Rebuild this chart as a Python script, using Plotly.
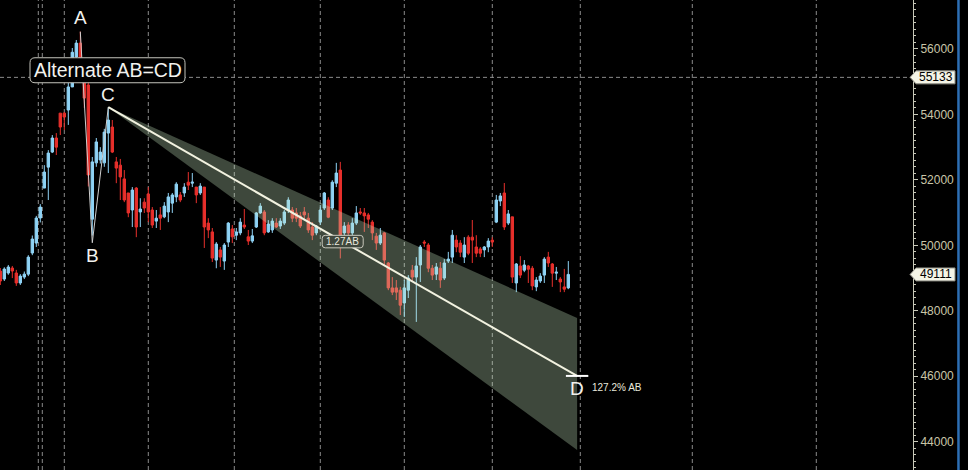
import plotly.graph_objects as go

# ---- candle data (index = bar number) ----
opens = [49215, 48970, 49154, 49307, 49154, 48850, 49030, 49120, 49765, 50070,
         50835, 51750, 52390, 52850, 53280, 54040, 54040, 54135, 54840, 55755,
         56180, 55300, 54900, 50800, 52520, 52610, 52520, 53430, 53615, 52550,
         52450, 52030, 51600, 51080, 51750, 51020, 51320, 51570, 51080, 50740,
         50930, 50870, 51020, 51290, 51480, 51540, 51600, 51930, 51900, 51780,
         51600, 51780, 50680, 50410, 49550, 49860, 49520, 50100, 50500, 50310,
         50380, 50620, 50260, 50130, 50560, 50990, 51020, 50410, 50470, 50680,
         50590, 50680, 51080, 51080, 50990, 50900, 51020, 50830, 50560, 50380,
         50710, 51140, 51385, 51140, 51900, 52300, 50380, 50620, 50380, 50680,
         51020, 50990, 50930, 50710, 50280, 50070, 50380, 49460, 48700, 48700,
         48630, 48240, 48630, 49240, 49030, 49400, 50100, 50010, 49300, 49120,
         49300, 49000, 49520, 49640, 50160, 50070, 49640, 50250, 50250, 49950,
         49890, 49860, 49950, 50160, 50710, 51355, 51600, 50680, 50870, 48850,
         49370, 49240, 49370, 49300, 48730, 48910, 49090, 49640, 49430, 49150,
         48970, 48730, 48700]
highs = [49307, 49330, 49400, 49370, 49250, 49120, 49200, 49700, 50300, 50900,
         51260, 52450, 52910, 53370, 53430, 54040, 54070, 54960, 56030, 56275,
         56530, 55500, 55000, 52700, 53280, 53000, 53560, 54220, 53830, 52700,
         52640, 52300, 51600, 51780, 51780, 51440, 51440, 51780, 51170, 51080,
         51170, 51320, 51600, 51600, 51930, 51630, 51900, 52240, 52210, 51780,
         51900, 51780, 50830, 50530, 50100, 49950, 50070, 50710, 50620, 50530,
         50830, 51110, 50470, 50500, 51020, 51290, 51080, 50770, 50830, 50830,
         50830, 51080, 51470, 51170, 51140, 51020, 51170, 50990, 50710, 50620,
         51230, 51630, 51470, 51990, 52520, 52550, 50710, 50710, 50830, 51200,
         51140, 51140, 50990, 50770, 50380, 50530, 50410, 49490, 49030, 48940,
         48730, 48940, 49090, 49400, 49640, 50010, 50160, 50070, 49400, 49460,
         49490, 49580, 49800, 50470, 50310, 50160, 50250, 50310, 50774, 50310,
         49950, 49980, 50220, 50250, 51540, 51600, 51905, 51080, 50870, 49460,
         49670, 49550, 49400, 49370, 49030, 49150, 49640, 49800, 49460, 49340,
         49030, 49280, 49520]
lows = [48788, 48910, 49100, 49000, 48760, 48790, 48970, 49060, 49700, 49950,
        50700, 51750, 51385, 52820, 52760, 53370, 53520, 53680, 54840, 55720,
        55000, 54200, 51800, 50300, 52400, 52500, 52400, 52210, 52820, 51900,
        51385, 51320, 50860, 50560, 50250, 50560, 50990, 50710, 50530, 50530,
        50470, 50830, 50710, 50990, 51320, 51320, 51480, 51690, 51780, 51290,
        51540, 49920, 50220, 49490, 49300, 49340, 49250, 49950, 50070, 50160,
        50310, 50500, 50010, 50070, 50530, 50960, 50310, 50380, 50380, 50530,
        50500, 50620, 50990, 50710, 50710, 50530, 50770, 50380, 50160, 50310,
        50620, 51080, 50830, 51080, 51780, 49600, 50310, 50250, 50310, 50620,
        50930, 50410, 50530, 50160, 49860, 50010, 49400, 48630, 48480, 48330,
        47870, 47810, 48390, 48880, 47660, 48880, 49950, 49180, 48940, 48940,
        48700, 48940, 49460, 49460, 49790, 49640, 49460, 49700, 49460, 49640,
        49640, 49640, 49790, 49950, 50680, 51200, 50470, 50620, 48850, 48570,
        49000, 49180, 48850, 48630, 48600, 48850, 48850, 49340, 48730, 48940,
        48570, 48570, 48660]
closes = [48910, 49276, 49338, 49215, 48850, 49060, 49120, 49640, 50193, 50835,
          51170, 52240, 52820, 53280, 53000, 53615, 53920, 54840, 55900, 56180,
          55300, 54500, 52150, 52550, 53160, 52850, 53460, 53830, 52850, 52360,
          52090, 51385, 50990, 51690, 50560, 51110, 51140, 51020, 50620, 50830,
          50830, 51200, 51480, 51540, 51870, 51385, 51780, 51840, 51930, 51540,
          51810, 50560, 50470, 49610, 50040, 49640, 50010, 50680, 50260, 50410,
          50710, 50560, 50130, 50290, 50990, 51200, 50380, 50650, 50740, 50560,
          50740, 51020, 51385, 50830, 50830, 50590, 50930, 50470, 50310, 50590,
          51080, 51600, 50860, 51930, 52210, 50160, 50590, 50380, 50680, 50990,
          50990, 50900, 50800, 50380, 50070, 50310, 49550, 48700, 48570, 48570,
          48170, 48700, 49000, 49030, 49370, 49950, 50070, 49300, 49090, 49340,
          48940, 49460, 49580, 50310, 49950, 49790, 50010, 49760, 50160, 49760,
          49760, 49950, 50130, 50100, 51385, 51510, 50560, 50960, 49030, 49430,
          49090, 49400, 49270, 48760, 48940, 49060, 49580, 49460, 49150, 49180,
          48880, 48660, 49111]
bars = list(range(len(opens)))

# ---- pattern points (bar index, price) ----
pattern_labels = ["A", "B", "C", "D"]
pattern_x = [20, 23, 27, 144.2]
pattern_y = [56530, 50080, 54220, 46010]
band_top_end = 47780
band_bottom_end = 43746
last_price = 49111
marked_price = 55133
grid_bars = [9.5, 10.5, 16, 37, 58.5, 80, 101, 123, 145, 173, 204]
y_ticks = [44000, 46000, 48000, 50000, 52000, 54000, 56000]

X_RANGE = [-0.075, 228.175]
Y_RANGE = [43135, 57497]

fig = go.Figure()

fig.add_trace(go.Candlestick(
    x=bars, open=opens, high=highs, low=lows, close=closes,
    increasing=dict(line=dict(color="#8fd3f5", width=1), fillcolor="#8fd3f5"),
    decreasing=dict(line=dict(color="#e8302c", width=1), fillcolor="#e8302c"),
    whiskerwidth=0, showlegend=False, hoverinfo="skip",
))

# shaded projection band C -> D
cx, cy = pattern_x[2], pattern_y[2]
dx, dy = pattern_x[3], pattern_y[3]
fig.add_trace(go.Scatter(
    x=[cx, dx, dx, cx], y=[cy, band_top_end, band_bottom_end, cy],
    mode="lines", fill="toself", fillcolor="rgba(205,240,200,0.30)",
    line=dict(width=0), showlegend=False, hoverinfo="skip",
))

# A-B-C legs
fig.add_trace(go.Scatter(
    x=pattern_x[:3], y=pattern_y[:3], mode="lines",
    line=dict(color="#cfcfcf", width=1), showlegend=False, hoverinfo="skip",
))
# C-D leg
fig.add_trace(go.Scatter(
    x=[cx, dx], y=[cy, dy], mode="lines",
    line=dict(color="#f2f2e0", width=2), showlegend=False, hoverinfo="skip",
))
# D marker bar
fig.add_trace(go.Scatter(
    x=[dx - 2.8, dx + 2.8], y=[dy, dy], mode="lines",
    line=dict(color="#ffffff", width=2), showlegend=False, hoverinfo="skip",
))

shapes = []
grid_style = dict(color="#8a8a8a", width=1, dash="4px,3px")
for g in grid_bars:
    shapes.append(dict(type="line", xref="x", yref="paper", x0=g, x1=g, y0=0, y1=1,
                       line=grid_style, layer="below"))
shapes.append(dict(type="line", xref="paper", yref="y", x0=0, x1=1, y0=marked_price,
                   y1=marked_price, line=grid_style, layer="below"))


def rrect(w, h, r):
    a, b = w / 2, h / 2
    return (f"M {-a + r},{-b} L {a - r},{-b} Q {a},{-b} {a},{-b + r} "
            f"L {a},{b - r} Q {a},{b} {a - r},{b} L {-a + r},{b} "
            f"Q {-a},{b} {-a},{b - r} L {-a},{-b + r} Q {-a},{-b} {-a + r},{-b} Z")


# title box
title_x, title_y = 26.8, 55350
shapes.append(dict(type="path", xref="x", yref="y", xsizemode="pixel", ysizemode="pixel",
                   xanchor=title_x, yanchor=title_y, path=rrect(155, 25, 5),
                   fillcolor="#000000", line=dict(color="#c4c4bc", width=1), layer="above"))
# 1.27AB box at mid of C-D
mx, my = (cx + dx) / 2, (cy + dy) / 2
shapes.append(dict(type="path", xref="x", yref="y", xsizemode="pixel", ysizemode="pixel",
                   xanchor=mx, yanchor=my, path=rrect(41, 12.5, 3),
                   fillcolor="#3f473d", line=dict(color="#c8c8bc", width=1), layer="above"))

# price tags on the axis
for p in (marked_price, last_price):
    shapes.append(dict(type="path", xref="paper", yref="y", xsizemode="pixel",
                       ysizemode="pixel", xanchor=1, yanchor=p,
                       path="M -3,0 L 3,6.5 L 42,6.5 L 42,-6.5 L 3,-6.5 Z",
                       fillcolor="#f4f4e6", line=dict(color="#8a8a80", width=1),
                       layer="above"))

# right-hand blue border
shapes.append(dict(type="line", xref="paper", yref="paper", x0=1.0498, x1=1.0498,
                   y0=0, y1=1, line=dict(color="#2d6fb5", width=2.5)))

annotations = []
lab_font = dict(family="Liberation Sans, Arial, sans-serif", size=19, color="#f2f2ee")
offsets = {"A": (0, 14), "B": (0, -13), "C": (0, 13), "D": (0, -13)}
for lab, xv, yv in zip(pattern_labels, pattern_x, pattern_y):
    ox, oy = offsets[lab]
    annotations.append(dict(x=xv, y=yv, xref="x", yref="y", text=lab, showarrow=False,
                            xshift=ox, yshift=oy, font=lab_font))
annotations.append(dict(x=title_x, y=title_y, xref="x", yref="y", text="Alternate AB=CD",
                        showarrow=False,
                        font=dict(family="Liberation Sans, Arial, sans-serif", size=19.5,
                                  color="#f2f2ee")))
annotations.append(dict(x=mx, y=my, xref="x", yref="y", text="1.27AB", showarrow=False,
                        font=dict(family="Liberation Sans, Arial, sans-serif", size=10,
                                  color="#e8e8dc")))
annotations.append(dict(x=dx, y=dy, xref="x", yref="y", text="127.2% AB", showarrow=False,
                        xanchor="left", xshift=13, yshift=-12,
                        font=dict(family="Liberation Sans, Arial, sans-serif", size=10,
                                  color="#e8e8dc")))
for p in (marked_price, last_price):
    annotations.append(dict(x=1, y=p, xref="paper", yref="y", text=str(p), showarrow=False,
                            xanchor="center", xshift=22.5,
                            font=dict(family="Liberation Sans, Arial, sans-serif", size=12,
                                      color="#000000")))

fig.update_layout(
    width=968, height=470,
    margin=dict(l=0, r=55, t=0, b=0, pad=0, autoexpand=False),
    paper_bgcolor="#000000", plot_bgcolor="#000000",
    showlegend=False, boxgap=0.15,
    shapes=shapes, annotations=annotations,
    xaxis=dict(range=X_RANGE, showgrid=False, zeroline=False, showticklabels=False,
               rangeslider=dict(visible=False), fixedrange=True, automargin=False),
    yaxis=dict(range=Y_RANGE, side="right", showgrid=False, zeroline=False,
               showline=True, linecolor="#c8c8b8", linewidth=1, automargin=False,
               tickvals=y_ticks, ticktext=[str(v) for v in y_ticks],
               ticks="outside", ticklen=4, tickcolor="#c8c8b8",
               minor=dict(dtick=200, ticks="outside", ticklen=2, tickcolor="#c8c8b8"),
               tickfont=dict(family="Liberation Sans, Arial, sans-serif", size=12,
                             color="#c9c6a8"),
               fixedrange=True),
)

fig.write_html(
    "out.html",
    config={"displayModeBar": False},
    post_script="document.body.style.margin='0px';document.body.style.background='#000';",
)
